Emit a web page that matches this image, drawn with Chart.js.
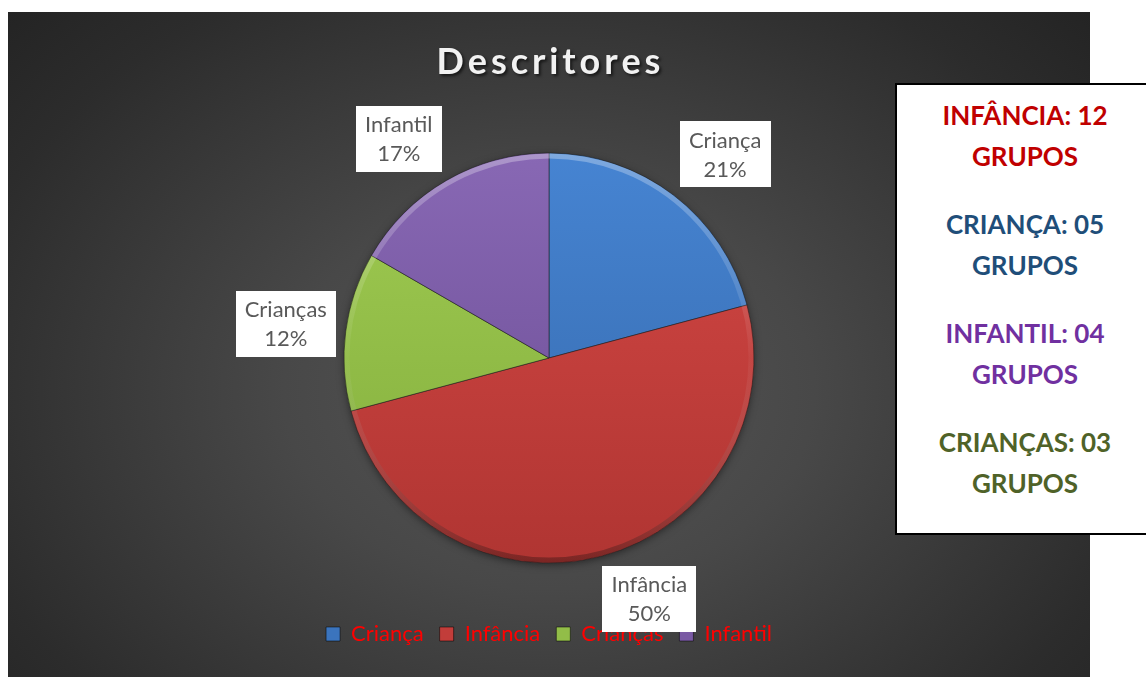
<!DOCTYPE html>
<html lang="pt">
<head>
<meta charset="utf-8">
<title>Descritores</title>
<script src="https://cdn.jsdelivr.net/npm/chart.js@4.4.1/dist/chart.umd.min.js"></script>
<style>
  html, body { margin: 0; padding: 0; background: #fff; overflow: hidden; width: 1146px; height: 677px; }
  #painel {
    position: absolute; left: 8px; top: 12px; width: 1082px; height: 665px;
    background: radial-gradient(ellipse 70% 85% at 50% 57%, #565656 0%, #484848 35%, #2c2c2c 80%, #232323 100%);
  }
  #info {
    position: absolute; left: 895px; top: 83px;
    background: #fff; border: 2px solid #000;
    font-family: Lato, "Noto Sans", sans-serif; font-weight: bold; font-size: 26px;
    text-align: center; padding-top: 10px; box-sizing: border-box; width: 260px; height: 452px;
  }
  #info p { margin: 0 0 27px 0; line-height: 41px; }
</style>
</head>
<body>
<div id="painel"><canvas id="grafico" width="1082" height="665"></canvas></div>
<div id="info"></div>
<script>
// --- Dados ---
const categorias = ["Criança", "Infância", "Crianças", "Infantil"];
const grupos = [5, 12, 3, 4];
const percentuais = ["21%", "50%", "12%", "17%"];

// caixa lateral (ordem do quadro)
const quadroNomes = ["INFÂNCIA", "CRIANÇA", "INFANTIL", "CRIANÇAS"];
const quadroGrupos = [12, 5, 4, 3];
const quadroCores = ["#c00000", "#1f4e79", "#7030a0", "#4f6228"];

// --- Cores das fatias ---
const corTopo = ["#4684d2", "#d44845", "#a0cb52", "#8868b4"];
const corBase = ["#3568aa", "#b03532", "#82ad3c", "#694b92"];
const corLegenda = ["#3b74bd", "#c23d3a", "#92bd48", "#7a5aa4"];

document.getElementById("info").innerHTML = quadroNomes
  .map((n, i) => `<p style="color:${quadroCores[i]}">${n}: ${String(quadroGrupos[i]).padStart(2, "0")}<br>GRUPOS</p>`)
  .join("");

const FONTE = "Lato, 'Noto Sans', sans-serif";
const RAIO = 205;

// titulo com espaçamento entre letras e sombra
const tituloPlugin = {
  id: "tituloDescritores",
  afterDraw(chart) {
    const ctx = chart.ctx;
    const texto = "Descritores";
    ctx.save();
    ctx.font = "bold 36px " + FONTE;
    const larguraNatural = ctx.measureText(texto).width;
    const alvo = 223;
    const espaco = (alvo - larguraNatural) / (texto.length - 1);
    let x = chart.width / 2 - alvo / 2 - 1;
    ctx.fillStyle = "#f2f2f2";
    ctx.shadowColor = "rgba(0,0,0,0.6)";
    ctx.shadowOffsetX = 2;
    ctx.shadowOffsetY = 2;
    ctx.shadowBlur = 3;
    ctx.textBaseline = "alphabetic";
    for (const ch of texto) {
      ctx.fillText(ch, x, 62);
      x += ctx.measureText(ch).width + espaco;
    }
    ctx.restore();
  },
};

// sombra + realce na borda da pizza
const relevoPlugin = {
  id: "relevo",
  beforeDatasetsDraw(chart) {
    const arco = chart.getDatasetMeta(0).data[0];
    if (!arco) return;
    const ctx = chart.ctx;
    ctx.save();
    ctx.shadowColor = "rgba(0,0,0,0.55)";
    ctx.shadowBlur = 8;
    ctx.shadowOffsetY = 2;
    ctx.fillStyle = "#333";
    ctx.beginPath();
    ctx.arc(arco.x, arco.y, arco.outerRadius - 1, 0, Math.PI * 2);
    ctx.fill();
    ctx.restore();
  },
  afterDatasetsDraw(chart) {
    const arco = chart.getDatasetMeta(0).data[0];
    if (!arco) return;
    const ctx = chart.ctx;
    const { x, y, outerRadius: r } = arco;
    ctx.save();
    const g = ctx.createLinearGradient(0, y - r, 0, y + r);
    g.addColorStop(0, "rgba(255,255,255,0.3)");
    g.addColorStop(0.5, "rgba(255,255,255,0.04)");
    g.addColorStop(1, "rgba(0,0,0,0.3)");
    ctx.strokeStyle = g;
    ctx.lineWidth = 5;
    ctx.beginPath();
    ctx.arc(x, y, r - 3, 0, Math.PI * 2);
    ctx.stroke();
    ctx.restore();
  },
};

// rótulos em caixas brancas fora das fatias
function desloca(d) {
  const v = Math.min(1, Math.max(0, (Math.abs(d) - 0.1) * 6));
  return Math.sign(d) * v;
}
const rotulosPlugin = {
  id: "rotulos",
  afterDatasetsDraw(chart) {
    const ctx = chart.ctx;
    const meta = chart.getDatasetMeta(0);
    ctx.save();
    ctx.font = "22px " + FONTE;
    ctx.textAlign = "center";
    ctx.textBaseline = "middle";
    meta.data.forEach((arco, i) => {
      const meio = (arco.startAngle + arco.endAngle) / 2;
      const dx = Math.cos(meio), dy = Math.sin(meio);
      const ax = arco.x + dx * (arco.outerRadius + 10);
      const ay = arco.y + dy * (arco.outerRadius + 10);
      const l1 = categorias[i], l2 = percentuais[i];
      const w = Math.max(ctx.measureText(l1).width, ctx.measureText(l2).width) + 18;
      const h = 66;
      const cx = ax + desloca(dx) * w / 2;
      const cy = ay + desloca(dy) * h / 2;
      ctx.fillStyle = "#fff";
      ctx.fillRect(Math.round(cx - w / 2), Math.round(cy - h / 2), Math.round(w), h);
      ctx.fillStyle = "#595959";
      ctx.fillText(l1, cx, cy - 14);
      ctx.fillText(l2, cx, cy + 15);
    });
    ctx.restore();
  },
};

new Chart(document.getElementById("grafico"), {
  type: "pie",
  data: {
    labels: categorias,
    datasets: [
      {
        data: grupos,
        backgroundColor: (c) => {
          const i = c.dataIndex;
          const area = c.chart.chartArea;
          if (i === undefined) return corLegenda[0];
          if (!area) return corLegenda[i];
          const cy = (area.top + area.bottom) / 2;
          const g = c.chart.ctx.createLinearGradient(0, cy - RAIO, 0, cy + RAIO);
          g.addColorStop(0, corTopo[i]);
          g.addColorStop(1, corBase[i]);
          return g;
        },
        borderColor: "rgba(30,30,30,0.55)",
        borderWidth: 1,
      },
    ],
  },
  options: {
    responsive: false,
    animation: false,
    radius: RAIO,
    layout: { padding: { top: 97, bottom: 22, left: 0, right: 0 } },
    plugins: {
      title: { display: false },
      tooltip: { enabled: false },
      legend: {
        position: "bottom",
        z: 1,
        labels: {
          color: "#ff0000",
          font: { family: FONTE, size: 22 },
          boxWidth: 14,
          boxHeight: 14,
          padding: 16,
          generateLabels: () =>
            categorias.map((c, i) => ({
              text: c,
              fillStyle: corLegenda[i],
              strokeStyle: "rgba(0,0,0,0.5)",
              lineWidth: 1,
              fontColor: "#ff0000",
              hidden: false,
              index: i,
            })),
        },
      },
    },
  },
  plugins: [relevoPlugin, rotulosPlugin, tituloPlugin],
});
</script>
</body>
</html>
